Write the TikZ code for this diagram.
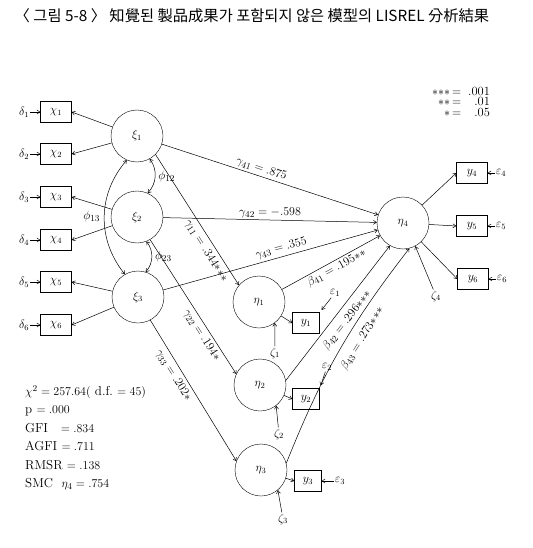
\documentclass[tikz,border=0pt]{standalone}
\usepackage{amsmath,amssymb}
\usepackage{fontspec}
\newfontfamily\krfont{Noto Sans CJK KR}
\usetikzlibrary{arrows.meta,positioning}
\newcommand{\aster}{\mathord{\ast}}

\begin{document}
\begin{tikzpicture}[
  x=1pt, y=-1pt,
  lat/.style={draw, circle, minimum size=52pt, inner sep=0pt, font=\fontsize{12}{14}\selectfont},
  obs/.style={draw, minimum width=31pt, minimum height=21pt, inner sep=0pt, font=\fontsize{12}{14}\selectfont},
  err/.style={inner sep=1pt, font=\fontsize{12}{14}\selectfont},
  lab/.style={font=\fontsize{12.5}{14}\selectfont, inner sep=2pt},
  line/.style={-{Straight Barb[length=3pt,width=4pt]}, line width=0.5pt},
  cov/.style={{Straight Barb[length=3pt,width=4pt]}-{Straight Barb[length=3pt,width=4pt]}, line width=0.5pt}
]
\useasboundingbox (0,0) rectangle (532,548);
\node[font=\krfont\fontsize{15.3}{17}\selectfont] (title) at (252,16) {〈 그림 5-8 〉 知覺된 製品成果가 포함되지 않은 模型의 LISREL 分析結果};

\node[obs] (x1) at (56,112) {$\chi_1$};
\node[obs] (x2) at (56,154) {$\chi_2$};
\node[obs] (x3) at (56,197) {$\chi_3$};
\node[obs] (x4) at (56,240) {$\chi_4$};
\node[obs] (x5) at (56,282) {$\chi_5$};
\node[obs] (x6) at (56,325) {$\chi_6$};
\node[err, left=10pt of x1] (d1) {$\delta_1$};
\node[err, left=10pt of x2] (d2) {$\delta_2$};
\node[err, left=10pt of x3] (d3) {$\delta_3$};
\node[err, left=10pt of x4] (d4) {$\delta_4$};
\node[err, left=10pt of x5] (d5) {$\delta_5$};
\node[err, left=10pt of x6] (d6) {$\delta_6$};

\node[lat] (xi1) at (137,136) {$\xi_1$};
\node[lat] (xi2) at (137,217) {$\xi_2$};
\node[lat] (xi3) at (138,297) {$\xi_3$};

\node[lat] (eta1) at (259,302) {$\eta_1$};
\node[lat] (eta2) at (260,385) {$\eta_2$};
\node[lat] (eta3) at (261,470) {$\eta_3$};
\node[lat] (eta4) at (403,223) {$\eta_4$};

\node[obs, minimum width=27pt] (y1) at (306,323) {$y_1$};
\node[obs, minimum width=27pt] (y2) at (306,399) {$y_2$};
\node[obs, minimum width=27pt] (y3) at (308,481) {$y_3$};
\node[obs] (y4) at (472,173) {$y_4$};
\node[obs] (y5) at (472,226) {$y_5$};
\node[obs] (y6) at (473,279) {$y_6$};

\node[err] (e1) at (335,293) {$\varepsilon_1$};
\node[err] (e2) at (327,367) {$\varepsilon_2$};
\node[err, right=12pt of y3] (e3) {$\varepsilon_3$};
\node[err, right=7pt of y4] (e4) {$\varepsilon_4$};
\node[err, right=7pt of y5] (e5) {$\varepsilon_5$};
\node[err, right=7pt of y6] (e6) {$\varepsilon_6$};

\node[err] (z1) at (275,353) {$\zeta_1$};
\node[err] (z2) at (279,434) {$\zeta_2$};
\node[err] (z3) at (283,519) {$\zeta_3$};
\node[err] (z4) at (436,296) {$\zeta_4$};

\node[font=\fontsize{12.5}{13}\selectfont, inner sep=0pt] (sig) at (461,103) {%
  \begin{tabular}{@{}r@{\,}c@{\;\;}r@{}}
  $\aster\aster\aster$ & $=$ & .001\\[-2.5pt]
  $\aster\aster$ & $=$ & .01\\[-2.5pt]
  $\aster$ & $=$ & .05
  \end{tabular}};

\node[anchor=north west, align=left, inner sep=0pt, font=\fontsize{13}{18.5}\selectfont] (fit) at (25,385) {%
  $\chi^2=257.64(\ $d.f.$\ =45)$\\
  p $=.000$\\
  GFI\ \ \ $=.834$\\
  AGFI $=.711$\\
  RMSR $=.138$\\
  SMC\ \ $\eta_4=.754$};

\foreach \i in {1,...,6} \draw[line] (d\i) -- (x\i);
\draw[line] (xi1) -- (x1.east);
\draw[line] (xi1) -- (x2.east);
\draw[line] (xi2) -- (x3.east);
\draw[line] (xi2) -- (x4.east);
\draw[line] (xi3) -- (x5.east);
\draw[line] (xi3) -- (x6.east);

\draw[cov] (xi1.-61) to[bend left=40] node[lab, right=1pt] {$\phi_{12}$} (xi2.66);
\draw[cov] (xi2.-69) to[bend left=40] node[lab, right=1pt] {$\phi_{23}$} (xi3.73);
\draw[cov] (xi1.247) to[bend right=40] node[lab, left=2pt] {$\phi_{13}$} (xi3.120);

\draw[line] (xi1) -- node[lab, sloped, above, pos=0.45] {$\gamma_{41}=.875$} (eta4);
\draw[line] (xi2) -- node[lab, above, pos=0.5] {$\gamma_{42}=-.598$} (eta4);
\draw[line] (xi3) -- node[lab, sloped, above=1pt, pos=0.56] {$\gamma_{43}=.355$} (eta4);
\draw[line] (xi1.-45) -- node[lab, sloped, below=2pt, pos=0.7] {$\gamma_{11}=.344\aster\aster\aster$} (eta1.140);
\draw[line] (xi2.-60) -- node[lab, sloped, below=1pt, pos=0.68] {$\gamma_{22}=.194\aster$} (eta2.155);
\draw[line] (xi3.-62) -- node[lab, sloped, below=2pt, pos=0.36] {$\gamma_{33}=.202\aster$} (eta3.160);

\draw[line] (eta1) -- node[lab, sloped, below, pos=0.52] {$\beta_{41}=.195\aster\aster$} (eta4);
\draw[line] (eta2.10) -- node[lab, sloped, below=4pt, pos=0.5] {$\beta_{42}=.296\aster\aster\aster$} (eta4.-120);
\draw[line] (eta3.15) to[bend left=8] node[lab, sloped, below=6pt, pos=0.6] {$\beta_{43}=.273\aster\aster\aster$} (eta4.-76);

\draw[line] (eta1) -- (y1.west);
\draw[line] (eta2) -- (y2.west);
\draw[line] (eta3) -- (y3.west);
\draw[line] (eta4) -- (y4.west);
\draw[line] (eta4) -- (y5.west);
\draw[line] (eta4) -- (y6.west);

\draw[line, shorten >=3pt] (e1) -- (y1.north east);
\draw[line, shorten >=3pt] (e2) -- (y2.north east);
\draw[line] (e3) -- (y3);
\draw[line] (e4) -- (y4);
\draw[line] (e5) -- (y5);
\draw[line] (e6) -- (y6);

\draw[line] (z1) -- (eta1.-53);
\draw[line] (z2) -- (eta2.-52);
\draw[line] (z3) -- (eta3.-50);
\draw[line] (z4) -- (eta4.-62);
\end{tikzpicture}
\end{document}
